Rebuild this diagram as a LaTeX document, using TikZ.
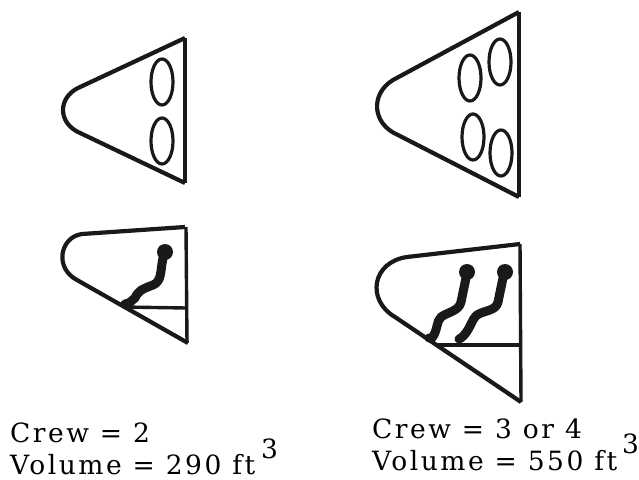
\documentclass[tikz,border=0pt]{standalone}
\usepackage{fontspec}
\setmainfont{DejaVu Serif}[LetterSpace=9.5]
\usepackage{tikz}
\usetikzlibrary{positioning}

\begin{document}
\begin{tikzpicture}[
        x=1pt, y=-1pt,
        hull/.style={draw=black!90, line width=4.2pt, line join=round},
        wall/.style={draw=black!90, line width=3.4pt},
        porthole/.style={draw=black!90, line width=3.2pt},
        body/.style={draw=black!90, line width=9pt, line cap=round, line join=round},
        head/.style={circle, fill=black!90, inner sep=0pt, minimum size=16pt},
        caption/.style={anchor=base west, inner sep=0pt, font=\fontsize{26.5}{30}\selectfont}
    ]
    \useasboundingbox (0,0) rectangle (639,479);
    \fill[white] (0,0) rectangle (639,479);

    % Top Row - Front Views
    \draw[hull] (185,38) -- (78,88) .. controls (58,98) and (58,122) .. (78,132) -- (185,183);
    \draw[wall] (185,38) -- (185,183);
    \draw[porthole] (162,82) ellipse (11 and 23);
    \draw[porthole] (162,141) ellipse (11 and 23);

    \draw[hull] (519,12) -- (393,80) .. controls (370,94) and (372,124) .. (398,135) -- (519,197);
    \draw[wall] (519,12) -- (519,197);
    \draw[porthole] (470,78) ellipse (11 and 23);
    \draw[porthole] (500,62) ellipse (11 and 23);
    \draw[porthole] (473,137) ellipse (11 and 23);
    \draw[porthole] (501,153) ellipse (11 and 23);

    % Bottom Row - Side Views
    \draw[hull] (185,227) -- (82,234) .. controls (60,237) and (54,268) .. (77,280) -- (188,343);
    \draw[wall] (186,227) -- (187,343);
    \draw[wall] (123,307) -- (186,308);

    \draw[hull] (520,244) -- (407,257) .. controls (372,262) and (366,300) .. (395,317) -- (521,402);
    \draw[wall] (520,244) -- (521,402);
    \draw[wall] (435,345) -- (521,345);

    % Seated Crew
    \node (head_a) [head] at (165,252) {};
    \draw[body] (163,258) .. controls (160,272) and (162,281) .. (153,285) .. controls (142,289) and (138,291) .. (135,298) -- (129,303) -- (125,304);

    \node (head_b) [head] at (467,272) {};
    \draw[body] (466,278) -- (461,302) .. controls (459,311) and (448,312) .. (441,317) .. controls (436,322) and (438,330) .. (432,338) -- (429,338);

    \node (head_c) [head] at (505,272) {};
    \draw[body] (503,278) -- (498,302) .. controls (496,311) and (485,310) .. (477,315) .. controls (471,320) and (470,331) .. (461,338) -- (459,339);

    % Captions
    \node (crew_left) [caption] at (10,442) {Crew = 2};
    \node (volume_left) [caption] at (10,474) {Volume = 290 ft};
    \node (power_left) [caption] at (261,458) {3};
    \node (crew_right) [caption] at (372,438) {Crew = 3 or 4};
    \node (volume_right) [caption] at (372,470) {Volume = 550 ft};
    \node (power_right) [caption] at (622,453) {3};
\end{tikzpicture}
\end{document}
